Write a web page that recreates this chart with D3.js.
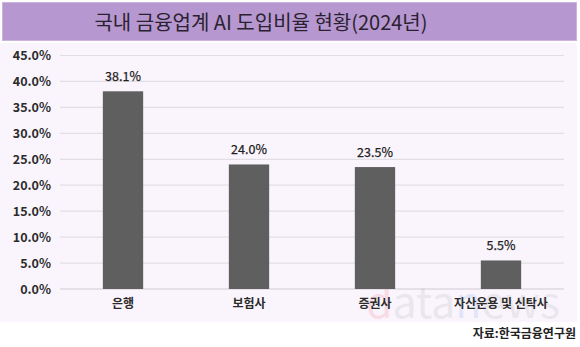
<!DOCTYPE html>
<html>
<head>
<meta charset="utf-8">
<script src="https://cdn.jsdelivr.net/npm/d3@7"></script>
<style>
  body { margin: 0; background: #ffffff; }
  text { font-family: "Noto Sans CJK KR", "Noto Sans", sans-serif; }
</style>
</head>
<body>
<div id="chart"></div>
<script>
//chart data
const categories = ["은행", "보험사", "증권사", "자산운용 및 신탁사"];
const values = [38.1, 24.0, 23.5, 5.5];
const yTicks = [0, 5, 10, 15, 20, 25, 30, 35, 40, 45];
const titleText = "국내 금융업계 AI 도입비율 현황(2024년)";
const sourceText = "자료:한국금융연구원";

const c_width = 580;
const c_height = 347;

const svg = d3.select("#chart")
              .append("svg")
              .attr("width", c_width)
              .attr("height", c_height);

//title band
svg.append("rect")
   .attr("x", 2.5).attr("y", 2.5)
   .attr("width", 574).attr("height", 38)
   .attr("fill", "#b697cf")
   .attr("stroke", "#cbb4de");

svg.append("text")
   .attr("x", 261).attr("y", 21)
   .attr("text-anchor", "middle")
   .attr("dominant-baseline", "central")
   .attr("font-size", 20)
   .attr("fill", "#2a2230")
   .text(titleText);

//chart background
svg.append("rect")
   .attr("x", 0).attr("y", 43)
   .attr("width", 577).attr("height", 279)
   .attr("fill", "#faf5fc");

//scales
const xScale = d3.scaleBand()
                 .domain(categories)
                 .range([60, 564])
                 .paddingInner(0.68)
                 .paddingOuter(0.34);

const yScale = d3.scaleLinear()
                 .domain([0, 45])
                 .range([289, 55.5]);

//gridlines
svg.append("g")
   .selectAll("line")
   .data(yTicks)
   .enter()
   .append("line")
   .attr("x1", 60).attr("x2", 564)
   .attr("y1", d => yScale(d)).attr("y2", d => yScale(d))
   .attr("stroke", d => d === 0 ? "#cfcbd2" : "#e2dfe4")
   .attr("stroke-width", 1.2);

//y axis labels
const yAxis = d3.axisLeft(yScale)
                .tickValues(yTicks)
                .tickFormat(d => d.toFixed(1) + "%")
                .tickSize(0)
                .tickPadding(0);

const yG = svg.append("g")
              .attr("transform", "translate(51,0)")
              .call(yAxis);
yG.select(".domain").remove();
yG.selectAll("text")
  .attr("font-size", 12.5)
  .attr("font-weight", "bold")
  .attr("fill", "#2b2b2b")
  .attr("font-family", "'Noto Sans', sans-serif");

//watermark (faint, behind the bars)
const wm = svg.append("text")
              .attr("x", 366).attr("y", 318)
              .attr("font-size", 42)
              .attr("textLength", 194)
              .attr("lengthAdjust", "spacingAndGlyphs")
              .attr("font-family", "'Noto Sans', sans-serif")
              .attr("opacity", 0.1);
wm.append("tspan").attr("fill", "#e0102a").text("d");
wm.append("tspan").attr("fill", "#6b6b7a").text("ata");
wm.append("tspan").attr("fill", "#1060e0").text("n");
wm.append("tspan").attr("fill", "#6b6b7a").text("ews");

//bars
svg.selectAll(".bar")
   .data(values)
   .enter()
   .append("rect")
   .attr("class", "bar")
   .attr("x", (d, i) => xScale(categories[i]))
   .attr("y", d => yScale(d))
   .attr("width", xScale.bandwidth())
   .attr("height", d => yScale(0) - yScale(d))
   .attr("fill", "#5f5f5f");

//value labels
svg.selectAll(".val")
   .data(values)
   .enter()
   .append("text")
   .attr("class", "val")
   .attr("x", (d, i) => xScale(categories[i]) + xScale.bandwidth() / 2)
   .attr("y", d => yScale(d) - 10)
   .attr("text-anchor", "middle")
   .attr("font-size", 12.5)
   .attr("font-family", "'Noto Sans', sans-serif")
   .attr("fill", "#222")
   .attr("stroke", "#222")
   .attr("stroke-width", 0.25)
   .text(d => d.toFixed(1) + "%");

//x axis labels
const xAxis = d3.axisBottom(xScale).tickSize(0).tickPadding(0);
const xG = svg.append("g")
              .attr("transform", "translate(0,299)")
              .call(xAxis);
xG.select(".domain").remove();
xG.selectAll("text")
  .attr("font-size", 12)
  .attr("font-weight", "bold")
  .attr("fill", "#2b2b2b");

//source
svg.append("text")
   .attr("x", 576).attr("y", 338)
   .attr("text-anchor", "end")
   .attr("font-size", 12)
   .attr("font-weight", "bold")
   .attr("fill", "#222")
   .text(sourceText);
</script>
</body>
</html>
